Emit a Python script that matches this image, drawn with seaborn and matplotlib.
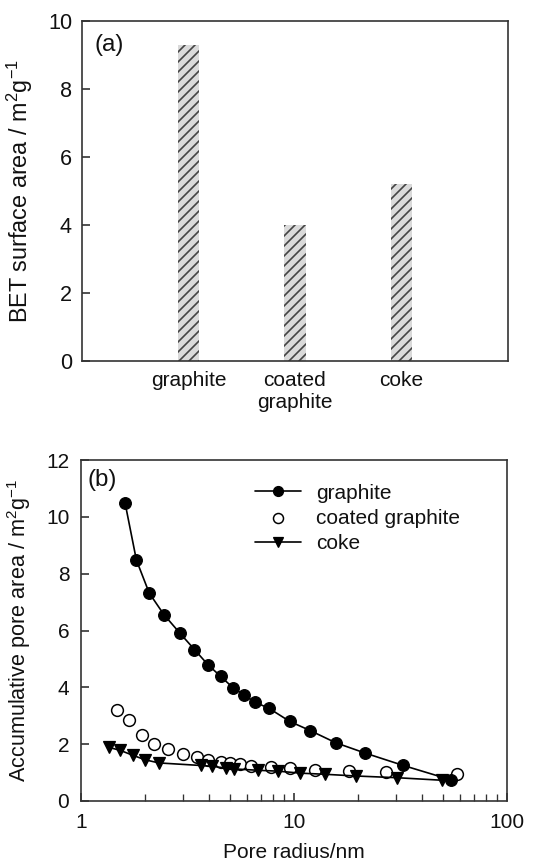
import matplotlib
matplotlib.use("Agg")
import matplotlib.pyplot as plt
import numpy as np
import pandas as pd
import seaborn as sns
from matplotlib.ticker import FixedLocator, FixedFormatter, LogLocator, NullFormatter

# (a) BET surface area of the three carbons
materials = ["graphite", "coated\ngraphite", "coke"]
bet_area = [9.3, 4.0, 5.2]

# (b) cumulative pore area versus pore radius
graphite_r = [1.61, 1.82, 2.09, 2.45, 2.91, 3.41, 3.95, 4.52, 5.18, 5.82, 6.53,
              7.60, 9.55, 11.9, 15.7, 21.5, 32.6, 54.8]
graphite_a = [10.49, 8.48, 7.32, 6.56, 5.91, 5.33, 4.79, 4.39, 3.98, 3.74, 3.48,
              3.27, 2.80, 2.48, 2.05, 1.69, 1.25, 0.74]

coated_r = [1.48, 1.68, 1.93, 2.21, 2.57, 3.01, 3.52, 3.95, 4.52, 5.0, 5.58,
            6.25, 7.79, 9.62, 12.6, 18.1, 27.1, 58.0]
coated_a = [3.19, 2.84, 2.34, 2.02, 1.82, 1.64, 1.55, 1.45, 1.38, 1.34, 1.29,
            1.24, 1.20, 1.15, 1.10, 1.05, 1.02, 0.96]

coke_r = [1.35, 1.53, 1.75, 2.00, 2.32, 3.65, 4.14, 4.77, 5.21, 6.81, 8.43,
          10.7, 14.0, 19.5, 30.4, 49.6]
coke_a = [1.89, 1.78, 1.61, 1.45, 1.34, 1.25, 1.22, 1.16, 1.13, 1.08, 1.05,
          0.98, 0.94, 0.88, 0.82, 0.73]

x_ticks = [1, 10, 100]
x_tick_labels = ["1", "10", "100"]

sns.set_theme(style="ticks")
plt.rcParams["font.family"] = ["Liberation Sans", "DejaVu Sans"]
plt.rcParams["mathtext.fontset"] = "custom"
plt.rcParams["mathtext.rm"] = "Liberation Sans"
plt.rcParams["mathtext.default"] = "regular"
plt.rcParams["hatch.linewidth"] = 1.0
plt.rcParams["text.color"] = "#111111"
plt.rcParams["axes.labelcolor"] = "#111111"
plt.rcParams["xtick.color"] = "#333333"
plt.rcParams["ytick.color"] = "#333333"
plt.rcParams["xtick.labelcolor"] = "#111111"
plt.rcParams["ytick.labelcolor"] = "#111111"

DPI = 120
W, H = 552, 863
fig = plt.figure(figsize=(W / DPI, H / DPI), dpi=DPI)
ax1 = fig.add_axes([82 / W, 1 - 361 / H, (508 - 82) / W, (361 - 21) / H])
ax2 = fig.add_axes([81 / W, 1 - 801 / H, (507 - 81) / W, (801 - 460) / H])

for ax in (ax1, ax2):
    for sp in ax.spines.values():
        sp.set_color("#333333")
        sp.set_linewidth(1.0)

# ---- panel (a): hatched bars
bars = pd.DataFrame({"material": materials, "area": bet_area})
sns.barplot(data=bars, x="material", y="area", ax=ax1, color="#dadada",
            saturation=1, width=0.2, hatch="////", edgecolor="#444444",
            linewidth=0, errorbar=None)
ax1.set_xlim(-1, 3)
ax1.set_ylim(0, 10)
ax1.set_yticks([0, 2, 4, 6, 8, 10])
ax1.set_xlabel("")
ax1.set_ylabel(r"BET surface area / m$^2$g$^{-1}$", fontsize=14, labelpad=8)
ax1.tick_params(axis="y", direction="in", length=5, width=1, labelsize=13, pad=6)
ax1.tick_params(axis="x", length=0, labelsize=12.5, pad=6)
ax1.text(0.03, 0.93, "(a)", transform=ax1.transAxes, fontsize=14.5, va="center")

# ---- panel (b): cumulative pore area curves
sns.lineplot(x=graphite_r, y=graphite_a, ax=ax2, sort=False, color="black",
             linewidth=1.0, marker="o", markersize=7, markeredgecolor="black",
             markerfacecolor="black", label="graphite")
sns.scatterplot(x=coated_r, y=coated_a, ax=ax2, marker="o", s=50,
                facecolor="white", edgecolor="black", linewidth=0.9,
                label="coated graphite")
sns.lineplot(x=coke_r, y=coke_a, ax=ax2, sort=False, color="black",
             linewidth=1.0, marker="v", markersize=7.5, markeredgecolor="black",
             markerfacecolor="black", label="coke")

ax2.set_xscale("log")
ax2.set_xlim(1, 100)
ax2.set_ylim(0, 12)
ax2.set_yticks([0, 2, 4, 6, 8, 10, 12])
ax2.xaxis.set_major_locator(FixedLocator(x_ticks))
ax2.xaxis.set_major_formatter(FixedFormatter(x_tick_labels))
ax2.xaxis.set_minor_locator(LogLocator(base=10, subs=np.arange(2, 10)))
ax2.xaxis.set_minor_formatter(NullFormatter())
ax2.tick_params(axis="both", which="major", direction="in", length=5, width=1,
                labelsize=12.5, pad=7)
ax2.tick_params(axis="x", which="minor", direction="in", length=4, width=0.8)
ax2.set_xlabel("Pore radius/nm", fontsize=12.5, labelpad=7)
ax2.set_ylabel(r"Accumulative pore area / m$^2$g$^{-1}$", fontsize=13, labelpad=8)
ax2.text(0.016, 0.94, "(b)", transform=ax2.transAxes, fontsize=14.5, va="center")

ax2.legend(loc="upper left", bbox_to_anchor=(0.39, 0.955), frameon=False,
           fontsize=12.5, handlelength=2.2, handletextpad=0.7,
           labelspacing=0.3, markerscale=0.85, borderaxespad=0)

fig.savefig("out.png", dpi=DPI)
